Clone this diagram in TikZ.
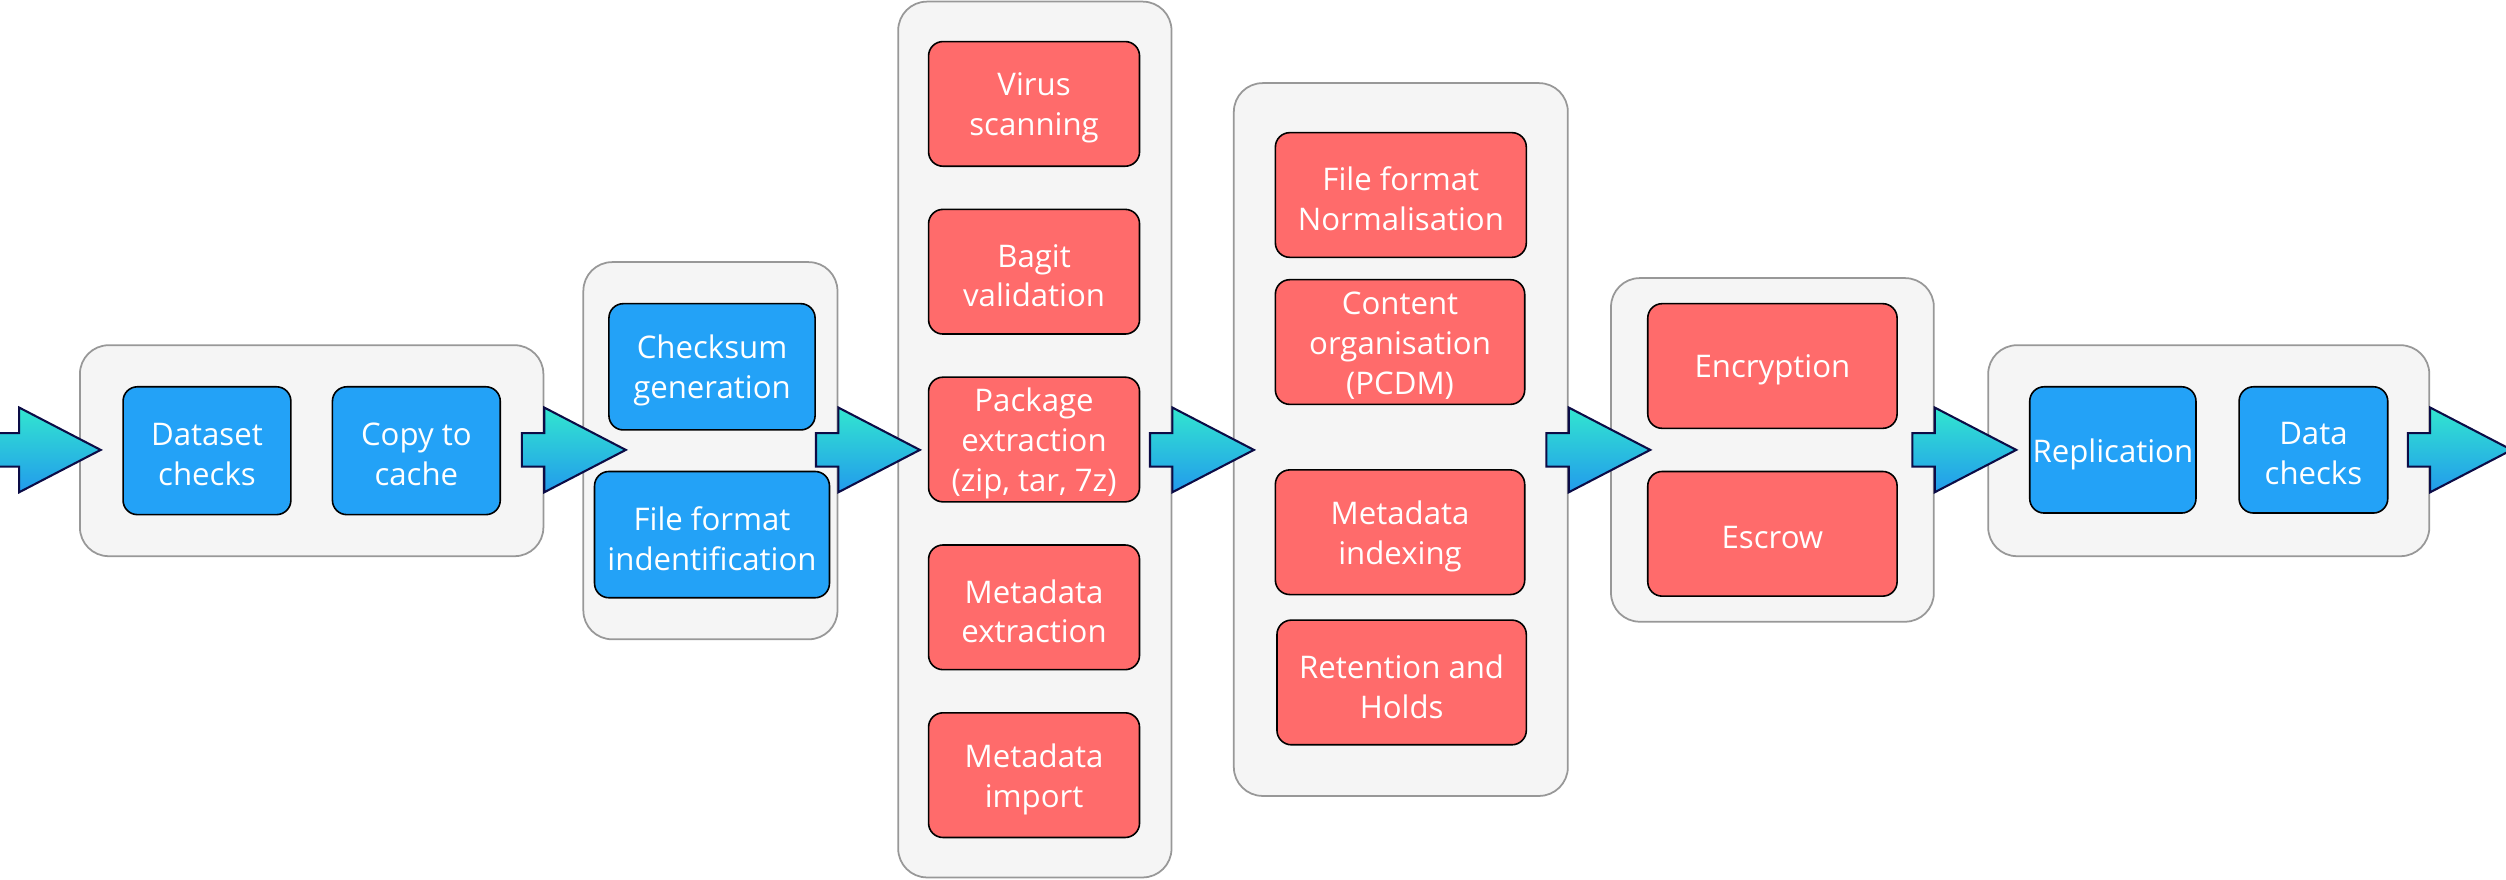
\documentclass[tikz,border=0pt]{standalone}
\usepackage{fontspec}
\setmainfont{Open Sans}
\begin{document}
\begin{tikzpicture}[x=1pt,y=-1pt,
  grp/.style={draw=gray!85!black!70, line width=1.1pt, fill=black!4, rounded corners=18pt, inner sep=0pt},
  stage/.style={draw=black, line width=1pt, rounded corners=9pt, inner sep=0pt},
  stagetext/.style={align=center, text=white, inner sep=0pt, yshift=-2.5pt, font=\fontsize{19.5}{25}\selectfont},
  bluebox/.style={stage, fill=blueA},
  redbox/.style={stage, fill=redA},
  flowarr/.style={draw=navyA, line width=1.3pt, line join=miter, top color=arrTop, bottom color=arrBot}
]
\definecolor{blueA}{RGB}{35,162,247}
\definecolor{redA}{RGB}{255,107,107}
\definecolor{navyA}{RGB}{12,12,70}
\definecolor{arrTop}{RGB}{50,230,208}
\definecolor{arrBot}{RGB}{34,154,236}
\useasboundingbox (0,0) rectangle (1568,550);
\clip (0,0) rectangle (1568,550);

% helper: box by corners, text centred (slightly lowered)
\newcommand{\bx}[7]{\node[#2, minimum width={(#5-#3)*1pt}, minimum height={(#6-#4)*1pt}, label={[stagetext]center:#7}] (#1) at ({(#3+#5)/2},{(#4+#6)/2}) {};}

% groups
\bx{g1}{grp}{50}{216}{340}{348}{}
\bx{g2}{grp}{365}{164}{524}{400}{}
\bx{g3}{grp}{562}{1}{733}{549}{}
\bx{g4}{grp}{772}{52}{981}{498}{}
\bx{g5}{grp}{1008}{174}{1210}{389}{}
\bx{g6}{grp}{1244}{216}{1520}{348}{}

% group 1
\bx{dc}{bluebox}{77}{242}{182}{322}{Dataset\\checks}
\bx{cc}{bluebox}{208}{242}{313}{322}{Copy to\\cache}
% group 2
\bx{cs}{bluebox}{381}{190}{510}{269}{Checksum\\generation}
\bx{ff}{bluebox}{372}{295}{519}{374}{File format\\indentification}
% group 3
\bx{vs}{redbox}{581}{26}{713}{104}{Virus\\scanning}
\bx{bv}{redbox}{581}{131}{713}{209}{Bagit\\validation}
\bx{pe}{redbox}{581}{236}{713}{314}{Package\\extraction\\(zip, tar, 7z)}
\bx{me}{redbox}{581}{341}{713}{419}{Metadata\\extraction}
\bx{mi}{redbox}{581}{446}{713}{524}{Metadata\\import}
% group 4
\bx{fn}{redbox}{798}{83}{955}{161}{File format\\Normalisation}
\bx{co}{redbox}{798}{175}{954}{253}{Content\\organisation\\(PCDM)}
\bx{mx}{redbox}{798}{294}{954}{372}{Metadata\\indexing}
\bx{rh}{redbox}{799}{388}{955}{466}{Retention and\\Holds}
% group 5
\bx{en}{redbox}{1031}{190}{1187}{268}{Encryption}
\bx{es}{redbox}{1031}{295}{1187}{373}{Escrow}
% group 6
\bx{rp}{bluebox}{1270}{242}{1374}{321}{Replication}
\bx{dk}{bluebox}{1401}{242}{1494}{321}{Data\\checks}

% flow arrows
\coordinate (axis) at (0,281.5);
\coordinate (in) at (12,281.5);
\newcommand{\flowarrow}[1]{%
  \begin{scope}[shift={(#1)}]
    \path[flowarr] (-14,-10.5) -- (0,-10.5) -- (0,-26.5) -- (51,0) -- (0,26.5) -- (0,10.5) -- (-14,10.5) -- cycle;
  \end{scope}}
\begin{scope}[shift={(in)}]
  \path[flowarr] (-20,-10.5) -- (0,-10.5) -- (0,-26.5) -- (51,0) -- (0,26.5) -- (0,10.5) -- (-20,10.5) -- cycle;
\end{scope}
\flowarrow{g1.east |- axis}
\flowarrow{g2.east |- axis}
\flowarrow{g3.east |- axis}
\flowarrow{g4.east |- axis}
\flowarrow{g5.east |- axis}
\flowarrow{g6.east |- axis}
\end{tikzpicture}
\end{document}
